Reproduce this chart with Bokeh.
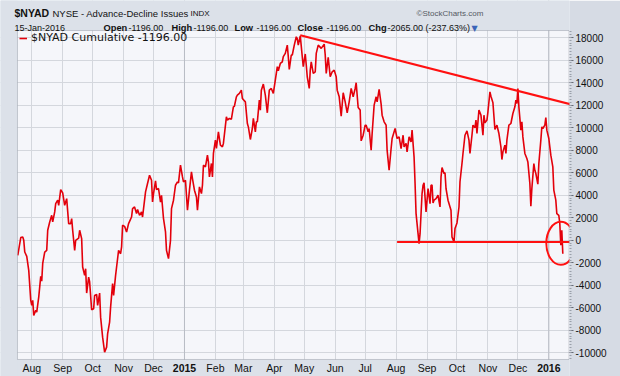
import pandas as pd
from bokeh.plotting import figure
from bokeh.models import Range1d, FixedTicker, Label, Span, Legend, LegendItem, BoxAnnotation
from bokeh.core.properties import value
from bokeh.embed import file_html
from bokeh.resources import INLINE

# ---------------- data ----------------
dates = [
    "2014-07-18", "2014-07-21", "2014-07-23", "2014-07-24", "2014-07-25", "2014-07-27", "2014-07-29", "2014-07-31",
    "2014-08-01", "2014-08-02", "2014-08-03", "2014-08-05", "2014-08-06", "2014-08-08", "2014-08-10", "2014-08-11",
    "2014-08-12", "2014-08-14", "2014-08-16", "2014-08-17", "2014-08-19", "2014-08-21", "2014-08-22", "2014-08-24",
    "2014-08-25", "2014-08-27", "2014-08-28", "2014-08-30",
    "2014-09-01", "2014-09-03", "2014-09-05", "2014-09-07", "2014-09-09", "2014-09-10", "2014-09-11", "2014-09-13",
    "2014-09-14", "2014-09-17", "2014-09-18", "2014-09-20", "2014-09-21", "2014-09-23", "2014-09-24", "2014-09-25",
    "2014-09-27", "2014-09-28", "2014-09-30",
    "2014-10-02", "2014-10-03", "2014-10-05", "2014-10-06", "2014-10-08", "2014-10-09", "2014-10-11", "2014-10-13",
    "2014-10-15", "2014-10-16", "2014-10-18", "2014-10-19", "2014-10-21", "2014-10-22", "2014-10-24", "2014-10-25",
    "2014-10-27", "2014-10-29", "2014-10-30", "2014-10-31",
    "2014-11-02", "2014-11-04", "2014-11-06", "2014-11-09", "2014-11-10", "2014-11-12", "2014-11-14", "2014-11-15",
    "2014-11-17", "2014-11-19", "2014-11-20", "2014-11-21", "2014-11-23", "2014-11-25", "2014-11-27", "2014-11-29",
    "2014-11-30",
    "2014-12-01", "2014-12-03", "2014-12-04", "2014-12-06", "2014-12-08", "2014-12-09", "2014-12-11", "2014-12-13",
    "2014-12-14", "2014-12-16", "2014-12-18", "2014-12-19", "2014-12-21", "2014-12-23", "2014-12-25", "2014-12-26",
    "2014-12-28", "2014-12-30", "2014-12-31",
    "2015-01-02", "2015-01-04", "2015-01-06", "2015-01-08", "2015-01-09", "2015-01-11", "2015-01-13", "2015-01-14",
    "2015-01-16", "2015-01-18", "2015-01-19", "2015-01-20", "2015-01-22", "2015-01-24", "2015-01-25", "2015-01-26",
    "2015-01-28", "2015-01-29", "2015-01-30",
    "2015-02-01", "2015-02-02", "2015-02-04", "2015-02-06", "2015-02-08", "2015-02-09", "2015-02-12", "2015-02-13",
    "2015-02-15", "2015-02-17", "2015-02-19", "2015-02-20", "2015-02-22", "2015-02-23", "2015-02-25", "2015-02-27",
    "2015-02-28",
    "2015-03-03", "2015-03-05", "2015-03-06", "2015-03-08", "2015-03-10", "2015-03-11", "2015-03-13", "2015-03-14",
    "2015-03-15", "2015-03-17", "2015-03-18", "2015-03-19", "2015-03-21", "2015-03-23", "2015-03-25", "2015-03-27",
    "2015-03-29", "2015-03-31",
    "2015-04-02", "2015-04-04", "2015-04-05", "2015-04-07", "2015-04-09", "2015-04-10", "2015-04-12", "2015-04-14",
    "2015-04-15", "2015-04-16", "2015-04-18", "2015-04-19", "2015-04-21", "2015-04-23", "2015-04-24", "2015-04-25",
    "2015-04-27", "2015-04-29", "2015-04-30",
    "2015-05-02", "2015-05-03", "2015-05-04", "2015-05-06", "2015-05-07", "2015-05-08", "2015-05-10", "2015-05-12",
    "2015-05-13", "2015-05-15", "2015-05-18", "2015-05-21", "2015-05-22", "2015-05-23", "2015-05-25", "2015-05-27",
    "2015-05-29", "2015-05-31",
    "2015-06-02", "2015-06-03", "2015-06-05", "2015-06-07", "2015-06-09", "2015-06-11", "2015-06-13", "2015-06-15",
    "2015-06-17", "2015-06-19", "2015-06-21", "2015-06-22", "2015-06-24", "2015-06-26", "2015-06-27", "2015-06-29",
    "2015-07-01", "2015-07-02", "2015-07-04", "2015-07-05", "2015-07-07", "2015-07-08", "2015-07-10", "2015-07-12",
    "2015-07-13", "2015-07-15", "2015-07-17", "2015-07-18", "2015-07-20", "2015-07-22", "2015-07-23", "2015-07-25",
    "2015-07-27", "2015-07-28", "2015-07-31",
    "2015-08-02", "2015-08-04", "2015-08-06", "2015-08-08", "2015-08-09", "2015-08-11", "2015-08-12", "2015-08-14",
    "2015-08-16", "2015-08-17", "2015-08-19", "2015-08-20", "2015-08-21", "2015-08-23", "2015-08-24", "2015-08-25",
    "2015-08-27", "2015-08-28", "2015-08-29", "2015-08-31",
    "2015-09-02", "2015-09-04", "2015-09-05", "2015-09-06", "2015-09-07", "2015-09-08", "2015-09-10", "2015-09-12",
    "2015-09-14", "2015-09-15", "2015-09-16", "2015-09-18", "2015-09-19", "2015-09-20", "2015-09-22", "2015-09-25",
    "2015-09-26", "2015-09-28", "2015-09-29",
    "2015-10-01", "2015-10-03", "2015-10-04", "2015-10-06", "2015-10-07", "2015-10-09", "2015-10-11", "2015-10-13",
    "2015-10-14", "2015-10-16", "2015-10-17", "2015-10-19", "2015-10-20", "2015-10-21", "2015-10-23", "2015-10-25",
    "2015-10-27", "2015-10-28", "2015-10-29", "2015-10-31",
    "2015-11-01", "2015-11-03", "2015-11-04", "2015-11-06", "2015-11-08", "2015-11-10", "2015-11-12", "2015-11-14",
    "2015-11-15", "2015-11-16", "2015-11-18", "2015-11-19", "2015-11-20", "2015-11-22", "2015-11-24", "2015-11-26",
    "2015-11-28", "2015-11-29", "2015-11-30",
    "2015-12-01", "2015-12-02", "2015-12-04", "2015-12-05", "2015-12-06", "2015-12-08", "2015-12-10", "2015-12-11",
    "2015-12-13", "2015-12-14", "2015-12-15", "2015-12-17", "2015-12-18", "2015-12-19", "2015-12-21", "2015-12-22",
    "2015-12-24", "2015-12-25", "2015-12-26", "2015-12-28", "2015-12-29", "2015-12-30",
    "2016-01-01", "2016-01-02", "2016-01-03", "2016-01-05", "2016-01-06", "2016-01-08", "2016-01-09", "2016-01-11",
    "2016-01-12", "2016-01-13", "2016-01-14", "2016-01-15",
]

nyad = [
    -1330, 240, 300, 0, -1040, -1420, -2670, -5330,
    -5780, -5330, -6670, -6220, -6370, -5040, -3200, -3620,
    -2050, -1040, -890, 890, 1630, 2220, 1630, 2520,
    3260, 3560, 3110, 4500,
    4210, 3110, 3700, 1480, 1480, 1930, 890, -890,
    0, 200, 890, 150, -2370, -3110, -2520, -4680,
    -3260, -3700, -6160,
    -6070, -4890, -4800, -5780, -4680, -6820, -8600, -9930,
    -9480, -8300, -7260, -5930, -3850, -4890, -3110, -2370,
    -890, -1190, -590, 1330,
    1240, 740, 1480, 2070, 2810, 2960, 2370, 2730,
    2220, 2520, 2070, 2810, 4300, 5040, 5780, 5330,
    3400,
    4150, 5270, 4500, 4600, 3400, 4000, 1930, 740,
    -890, -1630, 0, 2810, 3560, 4890, 5190, 5100,
    6670, 5630, 5190,
    5330, 2670, 4450, 6070, 5480, 4450, 3850, 2670,
    4740, 4150, 4890, 6670, 6520, 7560, 6960, 5630,
    6820, 5630, 7710,
    8890, 8150, 9630, 8450, 8300, 8600, 10960, 10670,
    10820, 10750, 11850, 11900, 12740, 12890, 13040, 13330,
    12590,
    12290, 10370, 10070, 8950, 9930, 10820, 9630, 10520,
    10520, 12440, 11560, 13330, 13870, 12890, 11320, 13330,
    13480, 13040,
    14220, 15410, 15050, 15700, 15850, 16300, 16590, 17330,
    16300, 15170, 16450, 16450, 17330, 18070, 17900, 17330,
    18150, 16300, 15410,
    16540, 15560, 14520, 13480, 15110, 15850, 14820, 14960,
    16590, 17330, 17040, 17420, 16450, 14820, 16240, 14520,
    14960, 15110,
    14520, 13330, 12740, 11020, 13100, 12290, 11320, 12290,
    13480, 12740, 13480, 13990, 11790, 11560, 8830, 9330,
    10220, 10220, 9630, 9930, 8000, 9480, 12000, 12740,
    12290, 13400, 12090, 11110, 10520, 10220, 8000, 6220,
    8150, 9040, 9930,
    9040, 9180, 8150, 9330, 8300, 8600, 7850, 9180,
    8740, 9780, 7410, 5040, 2370, 590, -300, 590,
    4150, 4890, 5100, 2520,
    4600, 3260, 4890, 4900, 3320, 3560, 3700, 4000,
    2960, 5630, 6460, 5930, 6000, 4600, 3560, 2670,
    300, -150, 1040,
    1540, 2960, 5200, 6820, 7710, 9330, 9710, 8890,
    7710, 9330, 10220, 10000, 10670, 9480, 11560, 11110,
    9330, 11110, 10430, 10670,
    11410, 13180, 12800, 12210, 9840, 10220, 9480, 8300,
    7170, 7850, 8450, 7710, 8890, 10220, 10370, 11260,
    11850, 12440, 12150,
    13480, 11850, 9780, 10520, 9180, 7710, 7260, 6960,
    5040, 3020, 4600, 6820, 6220, 5930, 4980, 6820,
    8890, 10070, 9930, 10220, 10900, 9780,
    9040, 8300, 7560, 6520, 4450, 3560, 2370, 2220,
    1480, -440, 890, -1196,
]

# annotations drawn on the chart
trend_dates = ["2015-04-27", "2016-01-24"]
trend_values = [18200, 12050]
support_dates = ["2015-08-02", "2016-01-22"]
support_values = [-150, -150]
circle_dates = ["2016-01-13"]
circle_values = [-270]

# axes
month_ticks = ["2014-08-01", "2014-09-01", "2014-10-01", "2014-11-01", "2014-12-01", "2015-01-01",
               "2015-02-01", "2015-03-01", "2015-04-01", "2015-05-01", "2015-06-01", "2015-07-01",
               "2015-08-01", "2015-09-01", "2015-10-01", "2015-11-01", "2015-12-01", "2016-01-01"]
month_labels = ["Aug", "Sep", "Oct", "Nov", "Dec", "2015", "Feb", "Mar", "Apr", "May", "Jun", "Jul",
                "Aug", "Sep", "Oct", "Nov", "Dec", "2016"]
y_ticks = [-10000, -8000, -6000, -4000, -2000, 0, 2000, 4000, 6000, 8000,
           10000, 12000, 14000, 16000, 18000]
y_labels = ["-10000", "-8000", "-6000", "-4000", "-2000", "0", "2000", "4000", "6000", "8000",
            "10000", "12000", "14000", "16000", "18000"]

# visible chart window (data extents of the plotting panel)
chart_start, chart_end = "2014-07-17 16:48", "2016-01-21 17:00"
chart_low, chart_high = -10578, 18622

# ---------------- styling ----------------
RED = "#e3000b"
LINE_RED = "#ff1010"
BORDER = "#dce1e9"
PANEL = "#f5f6fa"
SANS = "Liberation Sans"


def ms(d):
    return float(pd.Timestamp(d).value // 10**6)


# the frame spans the whole canvas (except the right axis) so that header texts and
# bottom labels can be drawn as annotations; the chart window is painted inside it
p = figure(width=620, height=376, x_axis_type="datetime", y_axis_location="right",
           output_backend="svg", toolbar_location=None,
           x_range=Range1d(ms("2014-06-30 16:48"), ms(chart_end)),
           y_range=Range1d(-12089, 21289),
           min_border_left=0, min_border_right=51, min_border_top=0, min_border_bottom=0)

p.border_fill_color = "#d6dbe4"
p.background_fill_color = BORDER
p.outline_line_color = None

p.xaxis.visible = False

# right axis
p.yaxis.ticker = FixedTicker(ticks=y_ticks, minor_ticks=list(range(-10500, 18601, 250)))
p.yaxis.major_label_overrides = {t: s for t, s in zip(y_ticks, y_labels)}
p.yaxis.axis_line_color = None
p.yaxis.major_tick_line_color = "#666b75"
p.yaxis.major_tick_out = 4
p.yaxis.major_tick_in = 0
p.yaxis.minor_tick_line_color = "#9aa0aa"
p.yaxis.minor_tick_out = 2
p.yaxis.minor_tick_in = 0
p.yaxis.major_label_standoff = 2
p.yaxis.major_label_text_font = SANS
p.yaxis.major_label_text_font_size = "10px"
p.yaxis.major_label_text_color = "#111111"

tick_ms = [ms(t) for t in month_ticks]
p.xgrid.ticker = FixedTicker(ticks=tick_ms, minor_ticks=[])
p.ygrid.ticker = FixedTicker(ticks=y_ticks)
p.xgrid.grid_line_color = "#d4d7dd"
p.ygrid.grid_line_color = "#d4d7dd"

# chart panel background (under the grid)
p.add_layout(BoxAnnotation(left=ms(chart_start), bottom=chart_low, top=chart_high,
                           fill_color=PANEL, fill_alpha=1, line_alpha=0, level="image"))

for t, lab in zip(month_ticks, month_labels):
    if lab.isdigit():
        p.add_layout(Span(location=ms(t), dimension="height", line_color="#b9bdc5",
                          line_width=1, level="underlay"))

# series
x = pd.to_datetime(dates)
r_main = p.line(x=x, y=nyad, line_color=RED, line_width=1.6)

# trend lines and circle
p.line(x=pd.to_datetime(trend_dates), y=trend_values, line_color=LINE_RED, line_width=2.2)
p.line(x=pd.to_datetime(support_dates), y=support_values, line_color=LINE_RED, line_width=2.2)
p.ellipse(x=pd.to_datetime(circle_dates), y=circle_values, width=29, height=43,
          width_units="screen", height_units="screen",
          fill_alpha=0, line_color=LINE_RED, line_width=2)

# cover grid lines outside of the chart window
for kw in (dict(bottom=chart_high), dict(top=chart_low), dict(right=ms(chart_start))):
    p.add_layout(BoxAnnotation(fill_color=BORDER, fill_alpha=1, line_alpha=0, **kw))
# chart window border
p.add_layout(BoxAnnotation(left=ms(chart_start), right=ms("2016-01-21 05:00"),
                           bottom=chart_low, top=chart_high,
                           fill_alpha=0, line_color="#6f7480", line_width=1))

# bottom month labels (years bold)
for t, lab in zip(month_ticks, month_labels):
    p.add_layout(Label(x=ms(t), y=8.5, y_units="screen", text=lab,
                       text_align="center", text_baseline="middle",
                       text_font=SANS, text_font_size="10.5px",
                       text_font_style="bold" if lab.isdigit() else "normal",
                       text_color="#111111"))

# legend
legend = Legend(items=[LegendItem(label=value("$NYAD Cumulative -1196.00"), renderers=[r_main])],
                location=(17, 330), margin=0, padding=2, spacing=0,
                glyph_width=8, glyph_height=10, label_height=10, label_standoff=4,
                label_text_font="DejaVu Sans", label_text_font_size="11px",
                label_text_color="#111111",
                border_line_alpha=0, background_fill_alpha=0)
p.add_layout(legend)


# header texts (x: pixels from the left, y: pixels up from the bottom)
def hdr(xp, yp, s, size="9px", bold=False, color="#111111", font=SANS):
    p.add_layout(Label(x=xp, y=yp, x_units="screen", y_units="screen", text=s,
                       text_baseline="alphabetic", text_align="left",
                       text_font=font, text_font_size=size,
                       text_font_style="bold" if bold else "normal", text_color=color))


L1, L2 = 363.5, 348.5
hdr(14, L1, "$NYAD", size="10.5px", bold=True)
hdr(52, L1, "NYSE - Advance-Decline Issues", size="9.5px")
hdr(190, L1, "INDX", size="8px")
hdr(416, L1, "\u00a9StockCharts.com", size="8px", color="#555a63")
hdr(14, L2, "15-Jan-2016", size="9px")
hdr(103, L2, "Open", size="9.3px", bold=True)
hdr(128, L2, "-1196.00", size="9px")
hdr(171, L2, "High", size="9.3px", bold=True)
hdr(193, L2, "-1196.00", size="9px")
hdr(234, L2, "Low", size="9.3px", bold=True)
hdr(256, L2, "-1196.00", size="9px")
hdr(297, L2, "Close", size="9.3px", bold=True)
hdr(326, L2, "-1196.00", size="9px")
hdr(368, L2, "Chg", size="9.3px", bold=True)
hdr(387, L2, "-2065.00 (-237.63%)", size="9px")
hdr(471, L2, "\u25bc", size="8px", font="DejaVu Sans", color="#3a64b8")

open("out.html", "w").write(file_html(p, INLINE))
